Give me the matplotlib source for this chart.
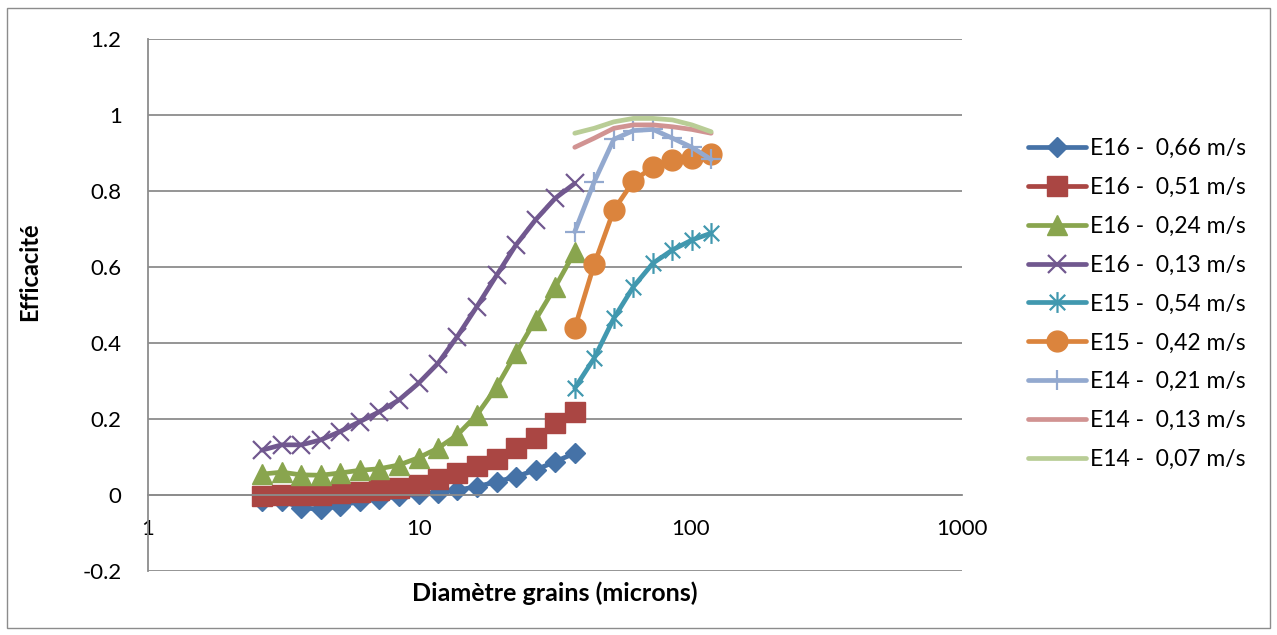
import matplotlib
matplotlib.use('Agg')
import matplotlib.pyplot as plt
from matplotlib.path import Path
from matplotlib.patches import Rectangle

plt.rcParams['font.family'] = ['Lato', 'DejaVu Sans']

# ---- data ----
diam_e16 = [2.63, 3.11, 3.67, 4.33, 5.11, 6.03, 7.12, 8.41, 9.93, 11.7, 13.8,
            16.3, 19.3, 22.7, 26.8, 31.7, 37.4]
diam_e15 = [37.4, 44.1, 52.1, 61.5, 72.6, 85.7, 101, 119]

e16_066 = [-0.016, -0.016, -0.033, -0.038, -0.029, -0.016, -0.011, -0.003, 0.002,
           0.006, 0.013, 0.022, 0.035, 0.048, 0.066, 0.088, 0.110]
e16_051 = [-0.003, -0.001, -0.001, 0.0, 0.004, 0.009, 0.013, 0.018, 0.026,
           0.041, 0.057, 0.076, 0.096, 0.123, 0.149, 0.189, 0.218]
e16_024 = [0.055, 0.060, 0.053, 0.052, 0.058, 0.065, 0.069, 0.079, 0.098,
           0.123, 0.158, 0.211, 0.285, 0.373, 0.461, 0.548, 0.640]
e16_013 = [0.118, 0.132, 0.132, 0.145, 0.167, 0.193, 0.219, 0.250, 0.294,
           0.346, 0.417, 0.496, 0.579, 0.658, 0.724, 0.781, 0.820]
e15_054 = [0.281, 0.360, 0.465, 0.548, 0.610, 0.645, 0.671, 0.689]
e15_042 = [0.439, 0.607, 0.750, 0.826, 0.864, 0.882, 0.886, 0.897]
e14_021 = [0.693, 0.824, 0.936, 0.959, 0.962, 0.939, 0.915, 0.883]
e14_013 = [0.915, 0.939, 0.965, 0.974, 0.974, 0.969, 0.962, 0.952]
e14_007 = [0.952, 0.965, 0.982, 0.991, 0.991, 0.987, 0.974, 0.956]

labels = ["E16 -  0,66 m/s", "E16 -  0,51 m/s", "E16 -  0,24 m/s", "E16 -  0,13 m/s",
          "E15 -  0,54 m/s", "E15 -  0,42 m/s", "E14 -  0,21 m/s", "E14 -  0,13 m/s",
          "E14 -  0,07 m/s"]
y_ticks = [-0.2, 0, 0.2, 0.4, 0.6, 0.8, 1, 1.2]
y_tick_labels = ["-0.2", "0", "0.2", "0.4", "0.6", "0.8", "1", "1.2"]
x_ticks = [1, 10, 100, 1000]
x_tick_labels = ["1", "10", "100", "1000"]

# asterisk marker (x + vertical bar)
star = Path([(-1, -1), (1, 1), (-1, 1), (1, -1), (0, -1.35), (0, 1.35)],
            [Path.MOVETO, Path.LINETO, Path.MOVETO, Path.LINETO, Path.MOVETO, Path.LINETO])

W, H = 1277, 635
fig = plt.figure(figsize=(W / 100, H / 100), dpi=100)
fig.patch.set_facecolor('white')
fig.add_artist(Rectangle((7 / W, 1 - 628 / H), (1270 - 7) / W, (628 - 8) / H,
                         transform=fig.transFigure, fill=False,
                         edgecolor='#8C8C8C', linewidth=1.0))

ax = fig.add_axes([148 / W, 1 - 571 / H, (962 - 148) / W, (571 - 39) / H])
ax.set_xscale('log')
ax.set_xlim(1, 1000)
ax.set_ylim(-0.2, 1.2)

lw = 3.4
series = [
    (diam_e16, e16_066, dict(color='#4572A7', marker='D', ms=10.5, mec='#4572A7')),
    (diam_e16, e16_051, dict(color='#AA4643', marker='s', ms=14, mec='#AA4643')),
    (diam_e16, e16_024, dict(color='#89A54E', marker='^', ms=14, mec='#89A54E')),
    (diam_e16, e16_013, dict(color='#71588F', marker='x', ms=13, mew=1.6)),
    (diam_e15, e15_054, dict(color='#4198AF', marker=star, ms=15, mew=1.6)),
    (diam_e15, e15_042, dict(color='#DB843D', marker='o', ms=15, mec='#DB843D')),
    (diam_e15, e14_021, dict(color='#93A9CF', marker='+', ms=15, mew=1.6)),
    (diam_e15, e14_013, dict(color='#D19392', marker=None)),
    (diam_e15, e14_007, dict(color='#B9CD96', marker=None)),
]
for (xs, ys, kw), lab in zip(series, labels):
    ax.plot(xs, ys, lw=lw, label=lab, solid_capstyle='round', **kw)

ax.set_yticks(y_ticks)
ax.set_yticklabels(y_tick_labels)
ax.set_xticks(x_ticks)
ax.set_xticklabels(x_tick_labels)
ax.xaxis.set_minor_locator(matplotlib.ticker.NullLocator())
ax.tick_params(axis='both', length=0, labelsize=16, colors='black')
ax.tick_params(axis='y', pad=19)
ax.tick_params(axis='x', pad=17)

ax.grid(axis='y', color='#8C8C8C', linewidth=1.3)
ax.grid(axis='x', visible=False)
ax.set_axisbelow(True)
for s in ['top', 'right']:
    ax.spines[s].set_visible(False)
ax.spines['bottom'].set_position(('data', 0))
ax.spines['bottom'].set_color('#8C8C8C')
ax.spines['bottom'].set_linewidth(1.3)
ax.spines['left'].set_color('#8C8C8C')
ax.spines['left'].set_linewidth(1.3)

fig.text(555 / W, 1 - 593 / H, "Diamètre grains (microns)", ha='center', va='center',
         fontsize=18, fontweight='bold')
fig.text(30 / W, 1 - 272 / H, "Efficacité", ha='center', va='center',
         fontsize=17, fontweight='bold', rotation=90)

leg = ax.legend(loc='center left', bbox_to_anchor=(1028 / W, 1 - 304 / H),
                bbox_transform=fig.transFigure, frameon=False, fontsize=16.5,
                handlelength=2.55, handletextpad=0.15, labelspacing=0.78,
                borderpad=0, borderaxespad=0, numpoints=1)

fig.savefig('out.png', dpi=100, facecolor='white')
